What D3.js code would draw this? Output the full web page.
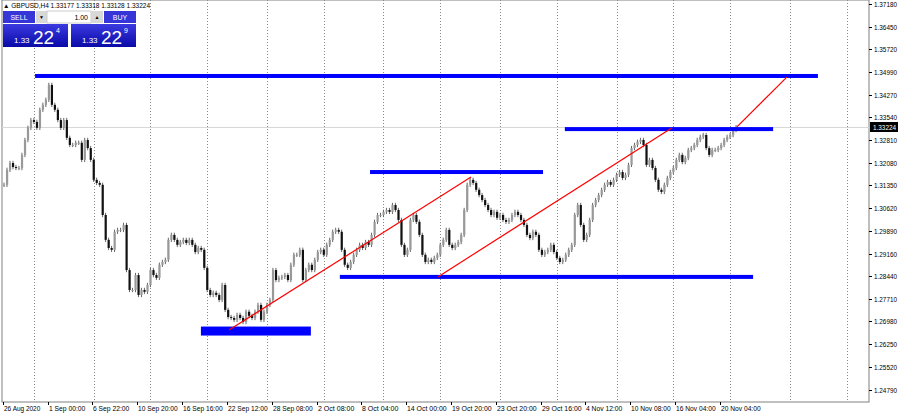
<!DOCTYPE html>
<html><head><meta charset="utf-8">
<script src="https://cdn.jsdelivr.net/npm/d3@7"></script>
<style>body{margin:0;background:#fff}svg{display:block;font-family:"Liberation Sans",sans-serif}</style>
</head><body><svg id="c" width="900" height="414"></svg>
<script>
// closes in pips above 1.2400
const closePips = [737,785,807,794,791,791,833,881,920,945,939,920,978,994,1010,1058,994,978,945,920,945,888,865,865,872,872,817,881,855,817,753,743,737,640,560,534,528,586,592,592,608,463,399,399,447,383,399,
393,415,463,447,438,480,489,496,560,576,560,544,553,560,550,560,544,521,534,528,470,399,383,390,383,367,415,335,312,309,303,319,309,296,329,316,309,329,351,303,329,351,367,463,431,438,441,447,431,480,512,512,
528,431,463,480,463,496,521,528,512,544,560,586,592,586,528,480,470,489,512,528,544,534,553,544,576,618,640,640,650,656,650,672,656,624,544,512,528,624,640,618,576,512,489,496,489,502,512,544,560,592,
544,534,544,553,576,656,737,753,743,721,704,688,672,656,640,650,631,640,624,618,624,640,650,640,624,608,576,566,586,576,528,512,521,528,544,521,502,489,496,512,528,544,640,672,608,560,576,624,672,688,
704,721,737,746,737,753,769,778,759,769,801,855,865,875,881,865,801,817,791,753,721,714,737,759,778,791,817,833,810,823,849,855,865,881,891,897,855,833,849,849,855,865,881,891,897,913,922];
const priceTicks = [1.37180,1.36450,1.35720,1.34990,1.34270,1.33540,1.32810,1.32080,1.31350,1.30620,1.29890,1.29160,1.28440,1.27710,1.26980,1.26250,1.25520,1.24790];
const timeLabels = ["26 Aug 2020","1 Sep 00:00","6 Sep 22:00","10 Sep 20:00","16 Sep 16:00","22 Sep 12:00","28 Sep 08:00","2 Oct 08:00","8 Oct 04:00","14 Oct 00:00","19 Oct 20:00","23 Oct 20:00","29 Oct 16:00","4 Nov 12:00","10 Nov 08:00","16 Nov 04:00","20 Nov 04:00"];
const gridIdx = [10,30,49,68,88,107,127,146,166,185,205,224,243,263,282];
// horizontal levels: [startIdx, endIdx, price, thickness]
const hLevels = [[10.4,272.4,1.34867,4],[187.7,257.4,1.3316,4],[122.5,180.4,1.3178,4],[112.4,250.7,1.2841,4],[65.9,102.7,1.2667,9]];
// red trend lines: [i1,p1,i2,p2]
const trends = [[75.3,1.2670,156.3,1.3162],[145.2,1.2841,223.6,1.3320],[245.3,1.3323,262.0,1.3483]];
const lastPrice = 1.33224;

const svg = d3.select("#c");
const x = d3.scaleLinear().domain([0,1]).range([4,4+2.988]);
const y = d3.scaleLinear().domain([1.3718,1.2439]).range([4,402]);
const px = v => 1.24 + v/10000;

svg.append("rect").attr("x",2).attr("y",0).attr("width",867).attr("height",402).attr("fill","#fff").attr("stroke","#808080");
svg.selectAll(".g").data(gridIdx).enter().append("line").attr("x1",d=>Math.round(x(d))+0.5).attr("x2",d=>Math.round(x(d))+0.5)
 .attr("y1",0).attr("y2",402).attr("stroke","#888").attr("stroke-dasharray","1,2").attr("stroke-width",1);
svg.append("line").attr("x1",2).attr("x2",869).attr("y1",Math.round(y(lastPrice))+0.5).attr("y2",Math.round(y(lastPrice))+0.5).attr("stroke","#d8d8d8");

const candles = closePips.map((c,i)=>{const o = i?closePips[i-1]:c; return {i,o:px(o),c:px(c),h:px(Math.max(o,c)+7),l:px(Math.min(o,c)-7)};});
const cg = svg.append("g");
cg.selectAll("line").data(candles).enter().append("line")
 .attr("x1",d=>x(d.i)).attr("x2",d=>x(d.i)).attr("y1",d=>y(d.h)).attr("y2",d=>y(d.l)).attr("stroke","#666").attr("stroke-width",1);
cg.selectAll("rect").data(candles).enter().append("rect")
 .attr("x",d=>x(d.i)-1).attr("width",2.2)
 .attr("y",d=>y(Math.max(d.o,d.c))).attr("height",d=>Math.max(1,Math.abs(y(d.o)-y(d.c))))
 .attr("fill",d=>d.c>=d.o?"#999":"#111");

svg.selectAll(".lv").data(hLevels).enter().append("rect")
 .attr("x",d=>x(d[0])).attr("width",d=>x(d[1])-x(d[0])).attr("y",d=>y(d[2])-d[3]/2).attr("height",d=>d[3]).attr("fill","#0000ff");
svg.selectAll(".tr").data(trends).enter().append("line")
 .attr("x1",d=>x(d[0])).attr("y1",d=>y(d[1])).attr("x2",d=>x(d[2])).attr("y2",d=>y(d[3])).attr("stroke","#ff0000").attr("stroke-width",1.2);

const pa = svg.append("g").attr("font-size","7px").attr("fill","#000");
priceTicks.forEach(p=>{const yy=Math.round(y(p));
 pa.append("line").attr("x1",869).attr("x2",872).attr("y1",yy+0.5).attr("y2",yy+0.5).attr("stroke","#000");
 pa.append("text").attr("x",874).attr("y",yy+3).attr("textLength",23).attr("lengthAdjust","spacingAndGlyphs").text(p.toFixed(5));});
const ly=Math.round(y(lastPrice));
svg.append("rect").attr("x",870).attr("y",ly-5).attr("width",28).attr("height",10).attr("fill","#000");
svg.append("text").attr("x",873).attr("y",ly+3).attr("font-size","7px").attr("fill","#fff").attr("textLength",23).attr("lengthAdjust","spacingAndGlyphs").text(lastPrice.toFixed(5));
const ta = svg.append("g").attr("font-size","6.5px");
timeLabels.forEach((t,k)=>{const xx=Math.round(x(k*15-0.4));
 ta.append("line").attr("x1",xx+0.5).attr("x2",xx+0.5).attr("y1",402).attr("y2",405).attr("stroke","#000");
 ta.append("text").attr("x",xx+1).attr("y",411).attr("textLength",t.length*3.3).attr("lengthAdjust","spacingAndGlyphs").text(t);});

const tp = svg.append("g");
tp.append("text").attr("x",3).attr("y",8).attr("font-size","6.5px").text("▲ GBPUSD,H4  1.33177 1.33318 1.33128 1.33224");
const grd = svg.append("defs").append("linearGradient").attr("id","bg").attr("x1",0).attr("x2",0).attr("y1",0).attr("y2",1);
grd.append("stop").attr("offset",0).attr("stop-color","#3a3ae0");grd.append("stop").attr("offset",1).attr("stop-color","#0a0aa8");
tp.append("rect").attr("x",3).attr("y",11).attr("width",32).attr("height",12).attr("fill","#3636d8");
tp.append("text").attr("x",19).attr("y",20).attr("text-anchor","middle").attr("font-size","7px").attr("fill","#fff").text("SELL");
tp.append("rect").attr("x",36).attr("y",11).attr("width",11).attr("height",12).attr("fill","#d8d8d8");
tp.append("text").attr("x",41.5).attr("y",19).attr("text-anchor","middle").attr("font-size","5px").text("▼");
tp.append("rect").attr("x",47).attr("y",11).attr("width",44).attr("height",12).attr("fill","#fff").attr("stroke","#ccc");
tp.append("text").attr("x",88).attr("y",20).attr("text-anchor","end").attr("font-size","7px").text("1.00");
tp.append("rect").attr("x",91).attr("y",11).attr("width",12).attr("height",12).attr("fill","#d8d8d8");
tp.append("text").attr("x",97).attr("y",19).attr("text-anchor","middle").attr("font-size","5px").text("▲");
tp.append("rect").attr("x",104).attr("y",11).attr("width",32).attr("height",12).attr("fill","#3636d8");
tp.append("text").attr("x",120).attr("y",20).attr("text-anchor","middle").attr("font-size","7px").attr("fill","#fff").text("BUY");
[[3,"1.33","22","4"],[71,"1.33","22","9"]].forEach(([bx,a,b,c])=>{
 tp.append("rect").attr("x",bx).attr("y",24).attr("width",65).attr("height",23).attr("fill","url(#bg)");
 tp.append("text").attr("x",bx+11).attr("y",43).attr("font-size","8px").attr("fill","#fff").text(a);
 tp.append("text").attr("x",bx+30).attr("y",44).attr("font-size","19px").attr("fill","#fff").text(b);
 tp.append("text").attr("x",bx+53).attr("y",33).attr("font-size","7px").attr("fill","#fff").text(c);});
</script></body></html>
